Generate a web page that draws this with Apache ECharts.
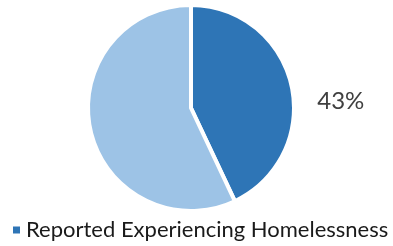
<!DOCTYPE html>
<html><head><meta charset="utf-8">
<script src="https://cdn.jsdelivr.net/npm/echarts@6/dist/echarts.min.js"></script>
<style>html,body{margin:0;padding:0;background:#fff}#c{width:393px;height:246px}</style>
</head><body><div id="c"></div>
<script>
var categories = ['Reported Experiencing Homelessness', 'Did Not Report Homelessness'];
var values = [43, 57];
var legendItems = ['Reported Experiencing Homelessness'];
var colors = ['#2E75B6', '#9DC3E6'];

var chart = echarts.init(document.getElementById('c'), null, {renderer: 'canvas'});
chart.setOption({
  animation: false,
  legend: {
    data: legendItems,
    bottom: 0,
    left: 6,
    itemWidth: 9, itemHeight: 9, icon: 'rect', itemGap: 8,
    textStyle: {fontFamily: 'Lato', fontSize: 22, color: '#1a1a1a'}
  },
  series: [{
    type: 'pie',
    center: [191, 108],
    radius: 103,
    startAngle: 90,
    clockwise: true,
    data: categories.map(function (n, i) {
      return {
        name: n, value: values[i],
        itemStyle: {color: colors[i]},
        label: {show: i === 0},
        labelLine: {show: false}
      };
    }),
    itemStyle: {borderColor: '#fff', borderWidth: 4},
    label: {
      position: 'outside',
      formatter: '{c}%',
      fontFamily: 'Lato', fontSize: 24, color: '#404040'
    },
    labelLine: {length: 10, length2: 11},
    labelLayout: {dy: 18},
    emphasis: {disabled: true}
  }]
});
</script></body></html>
